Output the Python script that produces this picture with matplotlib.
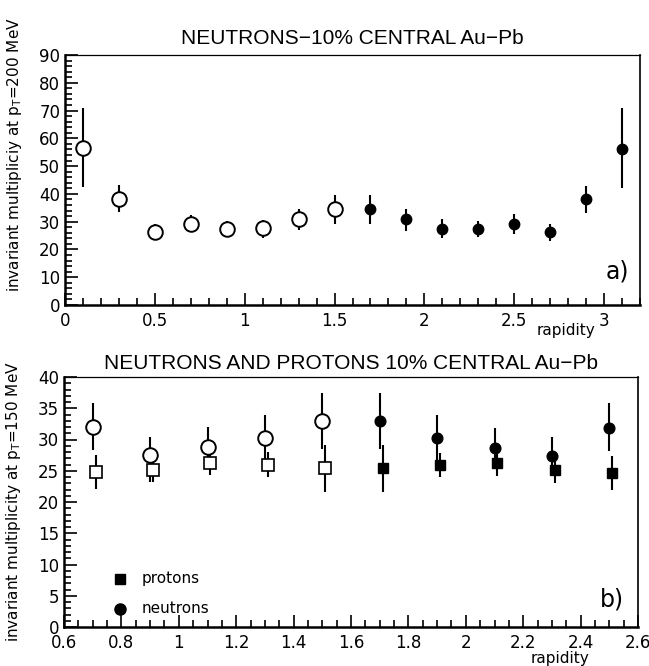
import matplotlib
matplotlib.use("Agg")
import matplotlib.pyplot as plt
from matplotlib.ticker import MultipleLocator
import numpy as np

# ---------------- data: panel a ----------------
a_x_open = [0.1, 0.3, 0.5, 0.7, 0.9, 1.1, 1.3, 1.5]
a_y_open = [56.4, 38.2, 26.4, 29.2, 27.5, 27.6, 30.8, 34.6]
a_lo_open = [42.4, 33.4, 23.6, 26.2, 25.0, 24.3, 26.9, 29.3]
a_hi_open = [70.8, 43.1, 29.3, 32.3, 30.2, 30.6, 34.6, 39.7]

a_x_fill = [1.7, 1.9, 2.1, 2.3, 2.5, 2.7, 2.9, 3.1]
a_y_fill = [34.6, 30.8, 27.5, 27.4, 29.2, 26.2, 38.1, 56.1]
a_lo_fill = [29.3, 26.8, 24.1, 24.4, 25.6, 23.2, 33.2, 42.1]
a_hi_fill = [39.7, 34.7, 30.8, 30.2, 32.6, 29.3, 43.0, 70.8]

# ---------------- data: panel b ----------------
b_xn_open = [0.70, 0.90, 1.10, 1.30, 1.50]
b_n_open = [32.0, 27.5, 28.8, 30.3, 33.0]
b_n_open_lo = [28.3, 23.2, 25.6, 26.4, 28.5]
b_n_open_hi = [35.9, 30.4, 32.0, 34.0, 37.5]

b_xp_open = [0.71, 0.91, 1.11, 1.31, 1.51]
b_p_open = [24.8, 25.2, 26.2, 26.0, 25.4]
b_p_open_lo = [22.1, 23.2, 24.3, 24.0, 21.6]
b_p_open_hi = [27.6, 27.2, 28.3, 28.0, 29.1]

b_xn_fill = [1.70, 1.90, 2.10, 2.30, 2.50]
b_n_fill = [33.0, 30.3, 28.7, 27.4, 31.9]
b_n_fill_lo = [28.5, 26.4, 25.6, 24.3, 28.1]
b_n_fill_hi = [37.5, 34.0, 31.9, 30.4, 35.9]

b_xp_fill = [1.71, 1.91, 2.11, 2.31, 2.51]
b_p_fill = [25.4, 26.0, 26.2, 25.2, 24.6]
b_p_fill_lo = [21.6, 24.0, 24.1, 23.1, 22.0]
b_p_fill_hi = [29.1, 27.9, 28.3, 27.2, 27.4]

title_a = "NEUTRONS\u221210% CENTRAL Au\u2212Pb"
title_b = "NEUTRONS AND PROTONS 10% CENTRAL Au\u2212Pb"
ylabel_a = r"invariant multipliciy at p$_\mathrm{T}$=200 MeV"
ylabel_b = r"invariant multiplicity at p$_\mathrm{T}$=150 MeV"
legend_labels = ["protons", "neutrons"]

plt.rcParams['font.family'] = ['DejaVu Sans']
TITLE_FONT = ['Liberation Sans Narrow', 'Liberation Sans', 'DejaVu Sans']

W, H = 649, 666
fig = plt.figure(figsize=(W / 100, H / 100), dpi=100)

def rect(l, r, t, b):
    return [l / W, 1 - b / H, (r - l) / W, (b - t) / H]

axa = fig.add_axes(rect(65, 640, 55, 305))
axb = fig.add_axes(rect(64, 638, 377, 627))

def errs(y, lo, hi):
    y = np.asarray(y); lo = np.asarray(lo); hi = np.asarray(hi)
    return np.vstack([y - lo, hi - y])

ekw = dict(ls='none', ecolor='black', elinewidth=1.5, capsize=0, zorder=2)

# panel a
axa.errorbar(a_x_open, a_y_open, yerr=errs(a_y_open, a_lo_open, a_hi_open),
             marker='o', ms=10.5, mfc='white', mec='black', mew=1.4, **ekw)
axa.errorbar(a_x_fill, a_y_fill, yerr=errs(a_y_fill, a_lo_fill, a_hi_fill),
             marker='o', ms=7.5, mfc='black', mec='black', **ekw)
axa.set_xlim(0, 3.2)
axa.set_ylim(0, 90)
axa.xaxis.set_minor_locator(MultipleLocator(0.1))
axa.yaxis.set_major_locator(MultipleLocator(10))
axa.yaxis.set_minor_locator(MultipleLocator(2))
axa.set_xticks([0, 0.5, 1, 1.5, 2, 2.5, 3])
axa.set_xticklabels(['0', '0.5', '1', '1.5', '2', '2.5', '3'])
axa.text(0.5, 1.065, title_a, transform=axa.transAxes, ha='center', va='center',
         fontsize=15, family=TITLE_FONT)
fig.text(617 / W, 1 - 272 / H, 'a)', ha='center', va='center', fontsize=17)
fig.text(566 / W, 1 - 331 / H, 'rapidity', ha='center', va='center', fontsize=11)
axa.set_ylabel(ylabel_a, fontsize=11)
axa.yaxis.set_label_coords(-0.072, 0.60)

# panel b
axb.errorbar(b_xn_open, b_n_open, yerr=errs(b_n_open, b_n_open_lo, b_n_open_hi),
             marker='o', ms=10.5, mfc='white', mec='black', mew=1.4, **ekw)
axb.errorbar(b_xp_open, b_p_open, yerr=errs(b_p_open, b_p_open_lo, b_p_open_hi),
             marker='s', ms=8, mfc='white', mec='black', mew=1.2, **ekw)
axb.errorbar(b_xn_fill, b_n_fill, yerr=errs(b_n_fill, b_n_fill_lo, b_n_fill_hi),
             marker='o', ms=7.7, mfc='black', mec='black', **ekw)
axb.errorbar(b_xp_fill, b_p_fill, yerr=errs(b_p_fill, b_p_fill_lo, b_p_fill_hi),
             marker='s', ms=7.7, mfc='black', mec='black', **ekw)
axb.set_xlim(0.6, 2.6)
axb.set_ylim(0, 40)
axb.xaxis.set_minor_locator(MultipleLocator(0.05))
axb.yaxis.set_major_locator(MultipleLocator(5))
axb.yaxis.set_minor_locator(MultipleLocator(1))
xt = [0.6, 0.8, 1.0, 1.2, 1.4, 1.6, 1.8, 2.0, 2.2, 2.4, 2.6]
axb.set_xticks(xt)
axb.set_xticklabels(['0.6', '0.8', '1', '1.2', '1.4', '1.6', '1.8', '2', '2.2', '2.4', '2.6'])
axb.text(0.5, 1.055, title_b, transform=axb.transAxes, ha='center', va='center',
         fontsize=15, family=TITLE_FONT)
fig.text(612 / W, 1 - 599 / H, 'b)', ha='center', va='center', fontsize=17)
fig.text(560 / W, 1 - 658 / H, 'rapidity', ha='center', va='center', fontsize=11)
axb.set_ylabel(ylabel_b, fontsize=11)
axb.yaxis.set_label_coords(-0.072, 0.50)

# legend
axb.plot([0.795], [7.7], marker='s', ms=7.5, color='black', ls='none')
axb.text(0.87, 7.7, legend_labels[0], va='center', ha='left', fontsize=11)
axb.plot([0.795], [2.9], marker='o', ms=8, color='black', ls='none')
axb.text(0.87, 2.9, legend_labels[1], va='center', ha='left', fontsize=11)

for ax in (axa, axb):
    ax.tick_params(axis='both', which='both', direction='in', top=False, right=False,
                   labelsize=12, width=1.2)
    ax.tick_params(axis='both', which='major', length=9)
    ax.tick_params(axis='both', which='minor', length=5)
    ax.tick_params(axis='x', pad=5)
    ax.spines['left'].set_linewidth(1.8)
    ax.spines['bottom'].set_linewidth(1.8)
    ax.spines['top'].set_linewidth(0.9)
    ax.spines['right'].set_linewidth(1.2)

fig.savefig('out.png', dpi=100)
